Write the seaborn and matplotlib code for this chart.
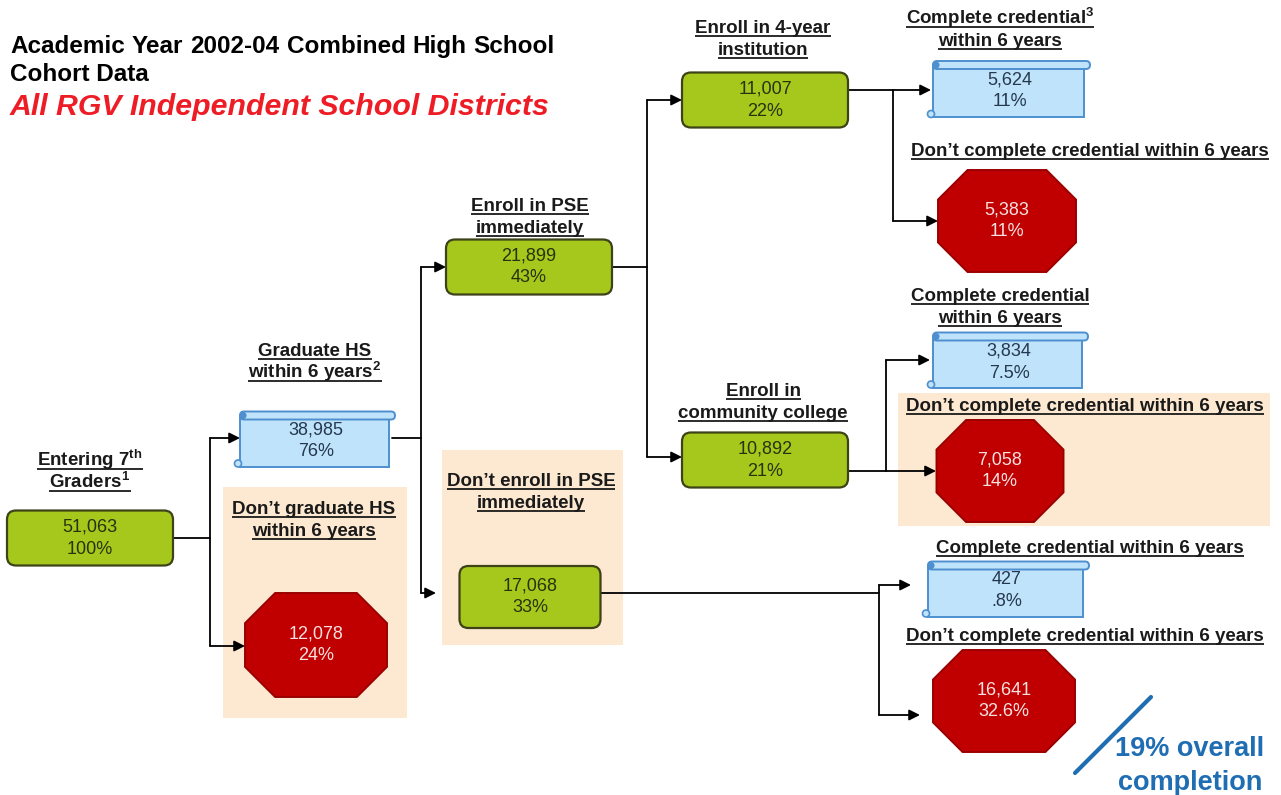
import matplotlib
matplotlib.use("Agg")
import matplotlib.pyplot as plt
from matplotlib.patches import FancyBboxPatch, Polygon, Rectangle, Circle
import seaborn as sns

# ---- chart values ----
stage_labels = [
    "Entering 7$^{\\mathbf{th}}$\nGraders$^{\\mathbf{1}}$",
    "Graduate HS\nwithin 6 years$^{\\mathbf{2}}$",
    "Don\u2019t graduate HS\nwithin 6 years",
    "Enroll in PSE\nimmediately",
    "Don\u2019t enroll in PSE\nimmediately",
    "Enroll in 4-year\ninstitution",
    "Enroll in\ncommunity college",
    "Complete credential$^{\\mathbf{3}}$\nwithin 6 years",
    "Don\u2019t complete credential within 6 years",
    "Complete credential\nwithin 6 years",
    "Don\u2019t complete credential within 6 years",
    "Complete credential within 6 years",
    "Don\u2019t complete credential within 6 years",
]
stage_counts = [51063, 38985, 12078, 21899, 17068, 11007, 10892,
                5624, 5383, 3834, 7058, 427, 16641]
stage_pcts = ["100%", "76%", "24%", "43%", "33%", "22%", "21%",
              "11%", "11%", "7.5%", "14%", ".8%", "32.6%"]
stage_kinds = ["box", "scroll", "stop", "box", "box", "box", "box",
               "scroll", "stop", "scroll", "stop", "scroll", "stop"]

title_lines = ["Academic Year 2002-04 Combined High School", "Cohort Data"]
subtitle = "All RGV Independent School Districts"
overall_note = ["19% overall", "completion"]

# ---- layout (pixel space, y down) ----
# shape center x, center y, width, height, label x, label first baseline
layout = [
    (90, 538, 166, 55, 90, 466),
    (316, 439, 158, 55, 315, 356),
    (316, 645, 142, 104, 314, 514),
    (529, 267, 166, 55, 530, 211),
    (530, 597, 141, 62, 531, 486),
    (765, 100, 166, 55, 763, 33),
    (765, 460, 166, 55, 763, 396),
    (1010, 89, 160, 56, 1000, 24),
    (1007, 221, 138, 102, 1090, 156),
    (1009, 360, 158, 55, 1000, 301),
    (1000, 471, 127, 102, 1085, 411),
    (1007, 589, 164, 55, 1090, 553),
    (1004, 701, 142, 102, 1085, 641),
]
peach_areas = [(223, 487, 184, 231), (442, 450, 181, 195), (898, 393, 372, 133)]
# start point, trunk x, branches (y, arrow tip x)
connectors = [
    ((173, 538), 210, [(438, 240), (646, 245)]),
    ((392, 438), 421, [(267, 446), (593, 436)]),
    ((612, 267), 647, [(100, 682), (457, 682)]),
    ((848, 90), 893, [(90, 931), (221, 938)]),
    ((848, 471), 886, [(360, 930), (471, 936)]),
    ((600, 593), 879, [(585, 911), (715, 920)]),
]

GREEN, GREEN_EDGE, GREEN_TXT = "#a6c81c", "#3d4218", "#27330e"
BLUE, BLUE_EDGE, BLUE_TXT = "#bfe3fa", "#4d8fcf", "#24384f"
RED, RED_EDGE, RED_TXT = "#c00000", "#9a0000", "#f7e1e1"
PEACH = "#fde9d1"

sns.set_theme(style="white")
plt.rcParams["font.family"] = ["Liberation Sans", "DejaVu Sans"]
plt.rcParams["mathtext.fontset"] = "custom"
plt.rcParams["mathtext.rm"] = "Liberation Sans"
plt.rcParams["mathtext.bf"] = "Liberation Sans:bold"
plt.rcParams["mathtext.it"] = "Liberation Sans:italic"

W, H = 1281, 795
fig = plt.figure(figsize=(W / 100, H / 100), dpi=100)
ax = fig.add_axes([0, 0, 1, 1])
ax.set_xlim(0, W)
ax.set_ylim(H, 0)
ax.axis("off")


def draw_box(cx, cy, w, h):
    ax.add_patch(FancyBboxPatch((cx - w / 2, cy - h / 2), w, h,
                                boxstyle="round,pad=0,rounding_size=9",
                                fc=GREEN, ec=GREEN_EDGE, lw=1.6, zorder=3))


def draw_scroll(cx, cy, w, h):
    x0, y0 = cx - w / 2, cy - h / 2
    ax.add_patch(Rectangle((x0 + 3, y0 + 4), w - 9, h - 4,
                           fc=BLUE, ec=BLUE_EDGE, lw=1.4, zorder=3))
    ax.add_patch(FancyBboxPatch((x0 + 3, y0), w - 3, 8,
                                boxstyle="round,pad=0,rounding_size=4",
                                fc=BLUE, ec=BLUE_EDGE, lw=1.4, zorder=4))
    ax.add_patch(Circle((x0 + 6, y0 + 4), 3, fc=BLUE_EDGE, ec=BLUE_EDGE, lw=0.8, zorder=5))
    ax.add_patch(Circle((x0 + 1, y0 + h - 3), 3.5, fc=BLUE, ec=BLUE_EDGE, lw=1.2, zorder=5))


def draw_stop(cx, cy, w, h):
    c = 0.29 * h
    x0, x1, y0, y1 = cx - w / 2, cx + w / 2, cy - h / 2, cy + h / 2
    pts = [(x0 + c, y0), (x1 - c, y0), (x1, y0 + c), (x1, y1 - c),
           (x1 - c, y1), (x0 + c, y1), (x0, y1 - c), (x0, y0 + c)]
    ax.add_patch(Polygon(pts, closed=True, fc=RED, ec=RED_EDGE, lw=1.4, zorder=3))


# peach highlight areas
for x0, y0, w, h in peach_areas:
    ax.add_patch(Rectangle((x0, y0), w, h, fc=PEACH, ec="none", zorder=0))

# connectors with arrows
for (sx, sy), tx, branches in connectors:
    ys = [sy] + [b[0] for b in branches]
    ax.plot([sx, tx], [sy, sy], color="black", lw=1.3, zorder=2)
    ax.plot([tx, tx], [min(ys), max(ys)], color="black", lw=1.3, zorder=2)
    for by, tip in branches:
        ax.annotate("", xy=(tip, by), xytext=(tx, by),
                    arrowprops=dict(arrowstyle="-|>", color="black", lw=1.3,
                                    mutation_scale=16, shrinkA=0, shrinkB=0),
                    zorder=2)

# nodes
label_texts = []
for lab, cnt, pct, kind, (cx, cy, w, h, lx, ly) in zip(
        stage_labels, stage_counts, stage_pcts, stage_kinds, layout):
    if kind == "box":
        draw_box(cx, cy, w, h)
        tc = GREEN_TXT
    elif kind == "scroll":
        draw_scroll(cx, cy, w, h)
        tc = BLUE_TXT
    else:
        draw_stop(cx, cy, w, h)
        tc = RED_TXT
    ty = cy + (2 if kind == "scroll" else 0)
    ax.text(cx, ty - 11, f"{cnt:,}", ha="center", va="center",
            fontsize=13, color=tc, zorder=6)
    ax.text(cx, ty + 11, pct, ha="center", va="center",
            fontsize=13, color=tc, zorder=6)
    for i, line in enumerate(lab.split("\n")):
        t = ax.text(lx, ly + i * 22, line, ha="center", va="baseline",
                    fontsize=13.5, fontweight="bold", color="#1a1a1a", zorder=6)
        label_texts.append(t)

# title, justified first line
fig.canvas.draw()
renderer = fig.canvas.get_renderer()
words = title_lines[0].split(" ")
word_texts = [ax.text(0, 53, wd, ha="left", va="baseline", fontsize=17.5,
                      fontweight="bold", color="black") for wd in words]
widths = [t.get_window_extent(renderer).width for t in word_texts]
left, right = 10, 555
gap = (right - left - sum(widths)) / (len(words) - 1)
x = left
for t, wdt in zip(word_texts, widths):
    t.set_x(x)
    x += wdt + gap
ax.text(left, 81, title_lines[1], ha="left", va="baseline", fontsize=17.5,
        fontweight="bold", color="black")
ax.text(left, 115, subtitle, ha="left", va="baseline", fontsize=21.8,
        fontweight="bold", fontstyle="italic", color="#ee1c25")

# overall completion note
NOTE_BLUE = "#1f6db3"
ax.plot([1075, 1151], [773, 697], color=NOTE_BLUE, lw=3, solid_capstyle="round")
ax.text(1190, 756, overall_note[0], ha="center", va="baseline", fontsize=19.5,
        fontweight="bold", color=NOTE_BLUE)
ax.text(1190, 790, overall_note[1], ha="center", va="baseline", fontsize=19.5,
        fontweight="bold", color=NOTE_BLUE)

# underline node labels
fig.canvas.draw()
for t in label_texts:
    bb = t.get_window_extent(renderer)
    _, by = t.get_position()
    ax.plot([bb.x0, bb.x1], [by + 2.5, by + 2.5], color="#1a1a1a", lw=1.3,
            solid_capstyle="butt", zorder=6)

fig.savefig("out.png", dpi=100)
